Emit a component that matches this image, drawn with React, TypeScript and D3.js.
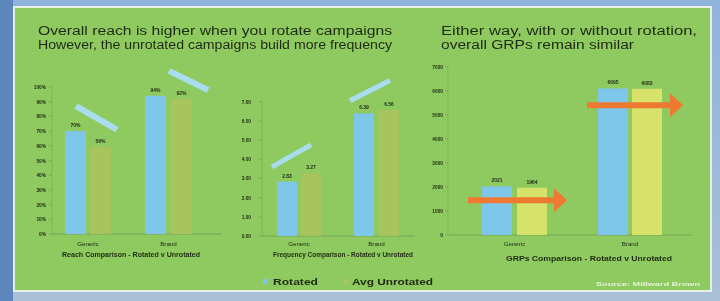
import React from 'react';
import * as d3 from 'd3';

const categories = ['Generic', 'Brand'];
const series = ['Rotated', 'Avg Unrotated'];

const reachValues = [[70, 59], [94, 92]];
const reachTicks = [0, 10, 20, 30, 40, 50, 60, 70, 80, 90, 100];

const freqValues = [[2.83, 3.27], [6.39, 6.56]];
const freqTicks = [0, 1, 2, 3, 4, 5, 6, 7];

const grpValues = [[2021, 1964], [6095, 6083]];
const grpTicks = [0, 1000, 2000, 3000, 4000, 5000, 6000, 7000];

const BLUE = '#7ec6ea';
const OLIVE = '#a9c35e';
const YELLOW = '#d6e26a';
const GREEN = '#8fca60';
const INK = '#1f2a14';
const STRIPE = '#a8dcee';
const ORANGE = '#ee7a32';

type Panel = {
  values: number[][];
  ticks: number[];
  fmt: (v: number) => string;
  x0: number; x1: number; y0: number; y1: number;
  yLabelX: number;
  bars: [number, number][];
  barW: number;
  second: string;
  title: string;
  titleX: number;
  titleY: number;
  titleW: number;
  catY: number;
};

function BarPanel({ p }: { p: Panel }) {
  const max = p.ticks[p.ticks.length - 1];
  const y = d3.scaleLinear().domain([0, max]).range([p.y0, p.y1]);
  return (
    <g>
      {p.ticks.map(t => (
        <g key={t}>
          <line x1={p.x0 - 3} x2={p.x0} y1={y(t)} y2={y(t)} stroke="#6f9a50" strokeWidth={0.6} />
          <text x={p.yLabelX} y={y(t) + 2} fontSize={4.8} textAnchor="end" fill={INK} fontWeight="bold">{p.fmt(t)}</text>
        </g>
      ))}
      <line x1={p.x0} x2={p.x0} y1={p.y0} y2={p.y1} stroke="#7aa65a" strokeWidth={0.6} />
      <line x1={p.x0} x2={p.x1} y1={p.y0} y2={p.y0} stroke="#6f9a50" strokeWidth={0.8} />
      {p.values.map((pair, ci) => (
        <g key={ci}>
          {pair.map((v, si) => {
            const bx = p.bars[ci][si];
            return (
              <g key={si}>
                <rect x={bx} y={y(v)} width={p.barW} height={p.y0 - y(v)} fill={si === 0 ? BLUE : p.second} />
                <text x={bx + p.barW / 2} y={y(v) - 4} fontSize={5} textAnchor="middle" fill={INK} fontWeight="bold">{p.fmt(v)}</text>
              </g>
            );
          })}
          <text x={(p.bars[ci][0] + p.bars[ci][1] + p.barW) / 2} y={p.catY} fontSize={6.2} textAnchor="middle" fill={INK}>{categories[ci]}</text>
        </g>
      ))}
      <text x={p.titleX} y={p.titleY} fontSize={6.4} textAnchor="middle" fill={INK} fontWeight="bold"
        textLength={p.titleW} lengthAdjust="spacingAndGlyphs">{p.title}</text>
    </g>
  );
}

export default function App() {
  const reach: Panel = {
    values: reachValues, ticks: reachTicks,
    fmt: v => `${v}%`,
    x0: 52, x1: 222, y0: 234, y1: 87, yLabelX: 46,
    bars: [[65, 90], [145, 171]], barW: 21, second: OLIVE,
    title: 'Reach Comparison - Rotated v Unrotated', titleX: 131, titleY: 257, titleW: 138, catY: 246,
  };
  const freq: Panel = {
    values: freqValues, ticks: freqTicks,
    fmt: v => v.toFixed(2),
    x0: 262, x1: 415, y0: 236, y1: 101.7, yLabelX: 251,
    bars: [[277, 301], [354, 379]], barW: 20, second: OLIVE,
    title: 'Frequency Comparison - Rotated v Unrotated', titleX: 343, titleY: 257, titleW: 140, catY: 246,
  };
  const grp: Panel = {
    values: grpValues, ticks: grpTicks,
    fmt: v => `${v}`,
    x0: 448, x1: 692, y0: 235, y1: 66.7, yLabelX: 443,
    bars: [[482, 517], [598, 632]], barW: 30, second: YELLOW,
    title: 'GRPs Comparison - Rotated v Unrotated', titleX: 589, titleY: 261, titleW: 166, catY: 246,
  };
  const yR = d3.scaleLinear().domain([0, 100]).range([234, 87]);
  const yF = d3.scaleLinear().domain([0, 7]).range([236, 101.7]);
  const yG = d3.scaleLinear().domain([0, 7000]).range([235, 66.7]);

  return (
    <svg width={720} height={301} style={{ position: 'absolute', left: 0, top: 0, fontFamily: 'Liberation Sans, Arial, sans-serif' }}>
      <defs>
        <linearGradient id="frame" x1="0" x2="0" y1="0" y2="1">
          <stop offset="0" stopColor="#8fb4dc" />
          <stop offset="1" stopColor="#a9bfd6" />
        </linearGradient>
        <filter id="soft" x="-2%" y="-2%" width="104%" height="104%">
          <feGaussianBlur stdDeviation="0.55" />
        </filter>
        <marker id="arrow" markerWidth="4" markerHeight="4" refX="1" refY="2" orient="auto" markerUnits="strokeWidth">
          <path d="M0,0 L2.2,2 L0,4 Z" fill={ORANGE} />
        </marker>
      </defs>
      <rect x={0} y={0} width={720} height={301} fill="url(#frame)" />
      <rect x={0} y={0} width={13} height={301} fill="#5d86bd" />
      <g filter="url(#soft)">
        <rect x={13} y={6} width={699} height={286} fill="#e6f0e6" />
        <rect x={15} y={8} width={695} height={282} fill={GREEN} />
        <text x={38} y={35} fontSize={12.5} fill={INK} textLength={354} lengthAdjust="spacingAndGlyphs">Overall reach is higher when you rotate campaigns</text>
        <text x={38} y={49} fontSize={12.5} fill={INK} textLength={354} lengthAdjust="spacingAndGlyphs">However, the unrotated campaigns build more frequency</text>
        <text x={441} y={35} fontSize={12.5} fill={INK} textLength={256} lengthAdjust="spacingAndGlyphs">Either way, with or without rotation,</text>
        <text x={441} y={49} fontSize={12.5} fill={INK} textLength={193} lengthAdjust="spacingAndGlyphs">overall GRPs remain similar</text>

        <BarPanel p={reach} />
        <BarPanel p={freq} />
        <BarPanel p={grp} />

        {/* annotation stripes */}
        <line x1={76} y1={yR(87)} x2={117} y2={yR(71)} stroke={STRIPE} strokeWidth={6} />
        <line x1={169} y1={yR(111)} x2={208} y2={yR(98)} stroke={STRIPE} strokeWidth={6} />
        <line x1={272} y1={yF(3.6)} x2={311} y2={yF(4.75)} stroke={STRIPE} strokeWidth={5} />
        <line x1={350} y1={yF(7.05)} x2={390} y2={yF(8.1)} stroke={STRIPE} strokeWidth={5} />

        {/* orange arrows */}
        <line x1={468} y1={yG(1450)} x2={560} y2={yG(1450)} stroke={ORANGE} strokeWidth={6} markerEnd="url(#arrow)" />
        <line x1={587} y1={yG(5400)} x2={676} y2={yG(5400)} stroke={ORANGE} strokeWidth={6} markerEnd="url(#arrow)" />

        {/* legend */}
        <rect x={263} y={279} width={5} height={5} fill={BLUE} />
        <text x={273} y={285} fontSize={8.5} fontWeight="bold" fill={INK} textLength={45} lengthAdjust="spacingAndGlyphs">{series[0]}</text>
        <rect x={344} y={279} width={5} height={5} fill={OLIVE} />
        <text x={352} y={285} fontSize={8.5} fontWeight="bold" fill={INK} textLength={81} lengthAdjust="spacingAndGlyphs">{series[1]}</text>
        <text x={700} y={286} fontSize={6} textAnchor="end" fill="#e8f4dc" fontWeight="bold" textLength={104} lengthAdjust="spacingAndGlyphs">Source: Millward Brown</text>
      </g>
    </svg>
  );
}
